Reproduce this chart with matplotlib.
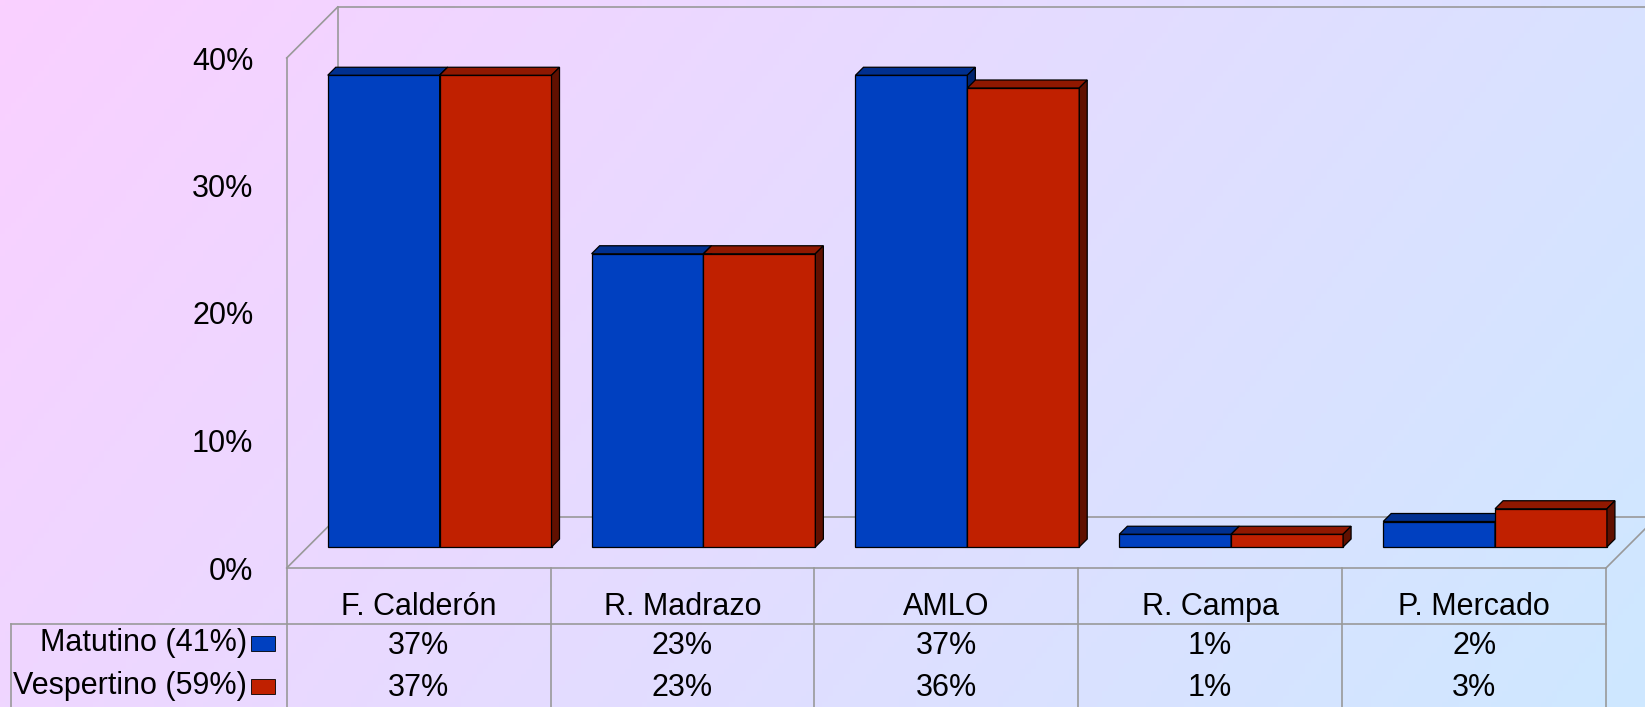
import numpy as np
import matplotlib
matplotlib.use("Agg")
import matplotlib.pyplot as plt
from matplotlib.patches import Polygon, Rectangle
from matplotlib.transforms import blended_transform_factory

# data
candidates = ["F. Calderón", "R. Madrazo", "AMLO", "R. Campa", "P. Mercado"]
series_names = ["Matutino (41%)", "Vespertino (59%)"]
matutino = [37, 23, 37, 1, 2]
vespertino = [37, 23, 36, 1, 3]
yticks = [0, 10, 20, 30, 40]

W, H = 1645, 707
plt.rcParams['font.family'] = ['Liberation Sans', 'DejaVu Sans']
fs = 22

fig = plt.figure(figsize=(W / 100, H / 100), dpi=100)

# background gradient pink -> light blue
bg = fig.add_axes([0, 0, 1, 1])
gx, gy = np.meshgrid(np.linspace(0, 1, 300), np.linspace(0, 1, 130))
t = (gx * 0.75 + gy * 0.25)
c0 = np.array([250, 208, 255]) / 255
c1 = np.array([206, 232, 255]) / 255
img = c0[None, None, :] * (1 - t[..., None]) + c1[None, None, :] * t[..., None]
bg.imshow(img, aspect='auto', extent=[0, 1, 0, 1], origin='upper')
bg.axis('off')

# front plane of the plot
x0p, x1p, ybot, ytop = 286.7, 1606, 568, 58
ax = fig.add_axes([x0p / W, 1 - ybot / H, (x1p - x0p) / W, (ybot - ytop) / H])
ax.set_xlim(0, len(candidates))
ax.set_ylim(0, 40)
ax.patch.set_visible(False)
for s in ax.spines.values():
    s.set_visible(False)
ax.set_xticks([])
ax.set_yticks(yticks)
ax.set_yticklabels([f"{v}%" for v in yticks], fontsize=fs)
ax.tick_params(axis='y', length=0, pad=24)

sx = ax.bbox.width / len(candidates)
sy = ax.bbox.height / 40.0

def du(px):
    # pixel depth -> data units (x, y)
    return px / sx, px / sy

grey = '#999999'
lw = 1.2
n = len(candidates)
wdx, wdy = du(51)

# walls and floor
ax.plot([0, wdx], [0, wdy], color=grey, lw=lw, clip_on=False, zorder=1)
ax.plot([0, wdx], [40, 40 + wdy], color=grey, lw=lw, clip_on=False, zorder=1)
ax.plot([0, 0], [0, 40], color=grey, lw=lw, clip_on=False, zorder=1)
ax.plot([wdx, wdx], [wdy, 40 + wdy], color=grey, lw=lw, clip_on=False, zorder=1)
ax.plot([wdx, n + wdx + 0.2], [40 + wdy, 40 + wdy], color=grey, lw=lw, clip_on=False, zorder=1)
ax.plot([wdx, n + wdx + 0.2], [wdy, wdy], color=grey, lw=lw, clip_on=False, zorder=1)
ax.plot([0, n], [0, 0], color=grey, lw=lw, clip_on=False, zorder=1)
ax.plot([n, n + wdx], [0, wdy], color=grey, lw=lw, clip_on=False, zorder=1)

# bars
fdx, fdy = du(21)
bdx, bdy = du(8)
bw = 0.424
cols = [("#0040C0", "#003090", "#002470"), ("#C02000", "#901800", "#601000")]
for i in range(n):
    for k, vals in enumerate([matutino, vespertino]):
        v = vals[i]
        xa = i + 0.5 - bw + k * bw + fdx
        xb = xa + bw
        front, top, side = cols[k]
        z = 3 + k
        ax.add_patch(Polygon([(xa, fdy), (xb, fdy), (xb, v + fdy), (xa, v + fdy)],
                             closed=True, fc=front, ec='black', lw=0.9, zorder=z, clip_on=False))
        ax.add_patch(Polygon([(xa, v + fdy), (xb, v + fdy), (xb + bdx, v + fdy + bdy), (xa + bdx, v + fdy + bdy)],
                             closed=True, fc=top, ec='black', lw=0.9, zorder=z, clip_on=False))
        ax.add_patch(Polygon([(xb, fdy), (xb + bdx, fdy + bdy), (xb + bdx, v + fdy + bdy), (xb, v + fdy)],
                             closed=True, fc=side, ec='black', lw=0.9, zorder=z, clip_on=False))

# data table
tr = blended_transform_factory(ax.transData, fig.transFigure)
fy = lambda py: 1 - py / H
for i in range(n + 1):
    ax.plot([i, i], [fy(ybot), 0], color=grey, lw=lw, transform=tr, clip_on=False, zorder=1)
fig.add_artist(plt.Line2D([10.5 / W, x1p / W], [fy(624), fy(624)], color=grey, lw=lw))
fig.add_artist(plt.Line2D([10.5 / W, 10.5 / W], [fy(624), 0], color=grey, lw=lw))

for i, name in enumerate(candidates):
    ax.text(i + 0.5, fy(607), name, transform=tr, ha='center', va='center', fontsize=fs)
    ax.text(i + 0.5, fy(646), f"{matutino[i]}%", transform=tr, ha='center', va='center', fontsize=fs)
    ax.text(i + 0.5, fy(688), f"{vespertino[i]}%", transform=tr, ha='center', va='center', fontsize=fs)

for k, (name, py) in enumerate(zip(series_names, [643, 686])):
    fig.text(247 / W, fy(py), name, ha='right', va='center', fontsize=fs)
    fig.add_artist(Rectangle((251 / W, fy(py + 7.5)), 24 / W, 15 / H, transform=fig.transFigure,
                             fc=cols[k][0], ec='black', lw=0.6))

fig.savefig("out.png", dpi=100)
